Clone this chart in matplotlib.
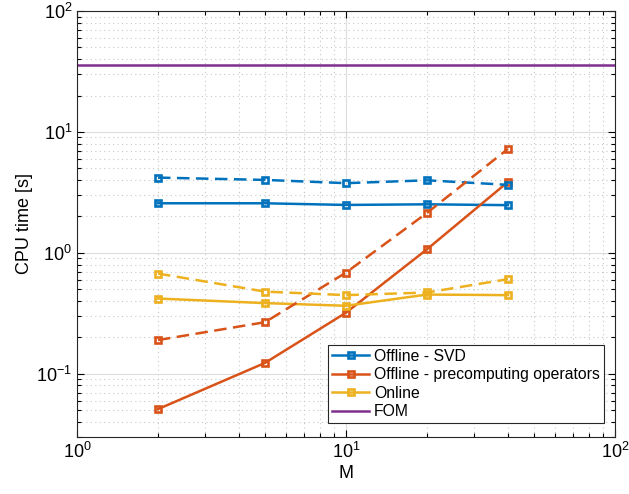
import matplotlib
matplotlib.use("Agg")
import matplotlib.pyplot as plt
from matplotlib.ticker import LogLocator, NullFormatter

plt.rcParams['font.family'] = ['Liberation Sans', 'DejaVu Sans']

M = [2, 5, 10, 20, 40]
svd_solid = [2.57, 2.57, 2.49, 2.52, 2.48]
svd_dash = [4.19, 4.01, 3.77, 3.98, 3.65]
pre_solid = [0.051, 0.123, 0.32, 1.07, 3.86]
pre_dash = [0.19, 0.267, 0.687, 2.14, 7.24]
onl_solid = [0.419, 0.384, 0.365, 0.452, 0.447]
onl_dash = [0.674, 0.478, 0.447, 0.47, 0.606]
fom = 35.8

labels = ['Offline - SVD', 'Offline - precomputing operators', 'Online', 'FOM']
colors = ['#0072BD', '#D95319', '#EDB120', '#7E2F8E']

fig = plt.figure(figsize=(6.29, 4.94), dpi=100)
ax = fig.add_axes([77/629, 1-437/494, (615-77)/629, (437-11)/494])

mk = dict(marker='s', markersize=4.8, markerfacecolor='none', markeredgewidth=1.9, linewidth=1.8)
ax.plot(M, svd_solid, color=colors[0], label=labels[0], **mk)
ax.plot(M, pre_solid, color=colors[1], label=labels[1], **mk)
ax.plot(M, onl_solid, color=colors[2], label=labels[2], **mk)
ax.axhline(fom, color=colors[3], linewidth=1.8, label=labels[3])
for ys, c in [(svd_dash, colors[0]), (pre_dash, colors[1]), (onl_dash, colors[2])]:
    ax.plot(M, ys, color=c, linestyle=(0, (5, 2.6)), **mk)

ax.set_xscale('log')
ax.set_yscale('log')
ax.set_xlim(1, 100)
ax.set_ylim(0.03, 100)

ax.xaxis.set_major_locator(LogLocator(base=10, numticks=10))
ax.yaxis.set_major_locator(LogLocator(base=10, numticks=10))
ax.xaxis.set_minor_locator(LogLocator(base=10, subs=range(2, 10), numticks=20))
ax.yaxis.set_minor_locator(LogLocator(base=10, subs=range(2, 10), numticks=20))
ax.xaxis.set_minor_formatter(NullFormatter())
ax.yaxis.set_minor_formatter(NullFormatter())

ax.grid(True, which='major', color='#dcdcdc', linewidth=0.8, linestyle='-')
ax.grid(True, which='minor', color='#c8c8c8', linewidth=0.8, linestyle=(0, (1, 3)))
ax.set_axisbelow(True)

ax.tick_params(which='both', direction='in', top=True, right=True, labelsize=13, width=0.8)
ax.tick_params(which='major', length=5)
ax.tick_params(which='minor', length=3)
for s in ax.spines.values():
    s.set_linewidth(0.8)
    s.set_color('#262626')

ax.set_xlabel('M', fontsize=13, labelpad=2)
ax.set_ylabel('CPU time [s]', fontsize=13, labelpad=2)

leg = ax.legend(loc='lower right', bbox_to_anchor=(604/629, 1-423/494), bbox_transform=fig.transFigure,
                fontsize=11.3, fancybox=False, framealpha=1, edgecolor='#262626',
                handlelength=2.35, handletextpad=0.32, borderpad=0.25, labelspacing=0.22,
                borderaxespad=0)
leg.get_frame().set_linewidth(0.8)

fig.savefig('out.png', dpi=100)
